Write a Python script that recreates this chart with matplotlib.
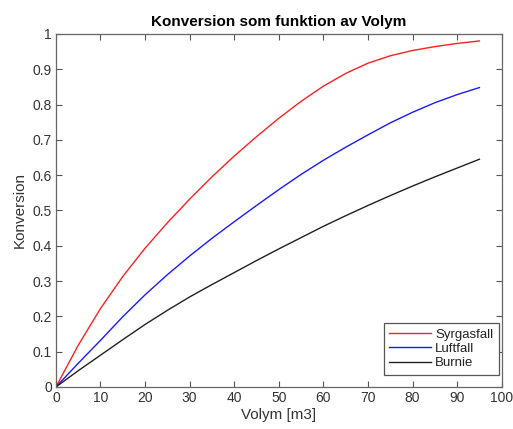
import numpy as np
import matplotlib
matplotlib.use("Agg")
import matplotlib.pyplot as plt

plt.rcParams['font.family'] = ['Liberation Sans', 'DejaVu Sans']

# volym [m3] och avläst konversion för de tre fallen
volym = [0, 5, 10, 15, 20, 25, 30, 35, 40, 45, 50, 55, 60, 65, 70, 75, 80, 85, 90, 95]
syrgasfall = [0, 0.118, 0.222, 0.313, 0.393, 0.465, 0.532, 0.595, 0.654, 0.709,
              0.761, 0.809, 0.852, 0.888, 0.917, 0.938, 0.953, 0.964, 0.973, 0.980]
luftfall = [0, 0.067, 0.132, 0.199, 0.261, 0.318, 0.371, 0.421, 0.468, 0.514,
            0.559, 0.602, 0.642, 0.679, 0.714, 0.748, 0.778, 0.805, 0.828, 0.848]
burnie = [0, 0.046, 0.09, 0.134, 0.177, 0.217, 0.255, 0.29, 0.324, 0.358,
          0.391, 0.423, 0.455, 0.485, 0.514, 0.542, 0.569, 0.595, 0.62, 0.645]

fig = plt.figure(figsize=(5.13, 4.29), dpi=100)
ax = fig.add_axes([0.109, 0.098, 0.869, 0.823])

ax.plot(volym, syrgasfall, color='#ff2020', lw=1.0, label='Syrgasfall')
ax.plot(volym, luftfall, color='#1a1aff', lw=1.0, label='Luftfall')
ax.plot(volym, burnie, color='#202020', lw=1.0, label='Burnie')

ax.set_xlim(0, 100)
ax.set_ylim(0, 1)
ax.set_xticks(np.arange(0, 101, 10))
ax.set_yticks(np.arange(0, 1.01, 0.1))
ax.set_yticklabels(['0', '0.1', '0.2', '0.3', '0.4', '0.5', '0.6', '0.7', '0.8', '0.9', '1'])
ax.tick_params(direction='in', top=True, right=True, length=4, width=0.8,
               color='#555555', labelcolor='#333333', labelsize=10, pad=3)
for s in ax.spines.values():
    s.set_color('#666666')
    s.set_linewidth(0.9)

ax.set_title('Konversion som funktion av Volym', fontsize=11, fontweight='bold', pad=6)
ax.set_xlabel('Volym [m3]', fontsize=11, color='#333333', labelpad=2)
ax.set_ylabel('Konversion', fontsize=11, color='#333333', labelpad=4)

leg = ax.legend(loc='lower right', bbox_to_anchor=(0.993, 0.035), borderaxespad=0,
                fancybox=False, fontsize=9.5, handlelength=3.2, labelspacing=0.15,
                handletextpad=0.3, borderpad=0.4, framealpha=1)
leg.get_frame().set_edgecolor('#555555')
leg.get_frame().set_linewidth(0.9)
for t in leg.get_texts():
    t.set_color('#222222')

fig.savefig('out.png', dpi=100)
